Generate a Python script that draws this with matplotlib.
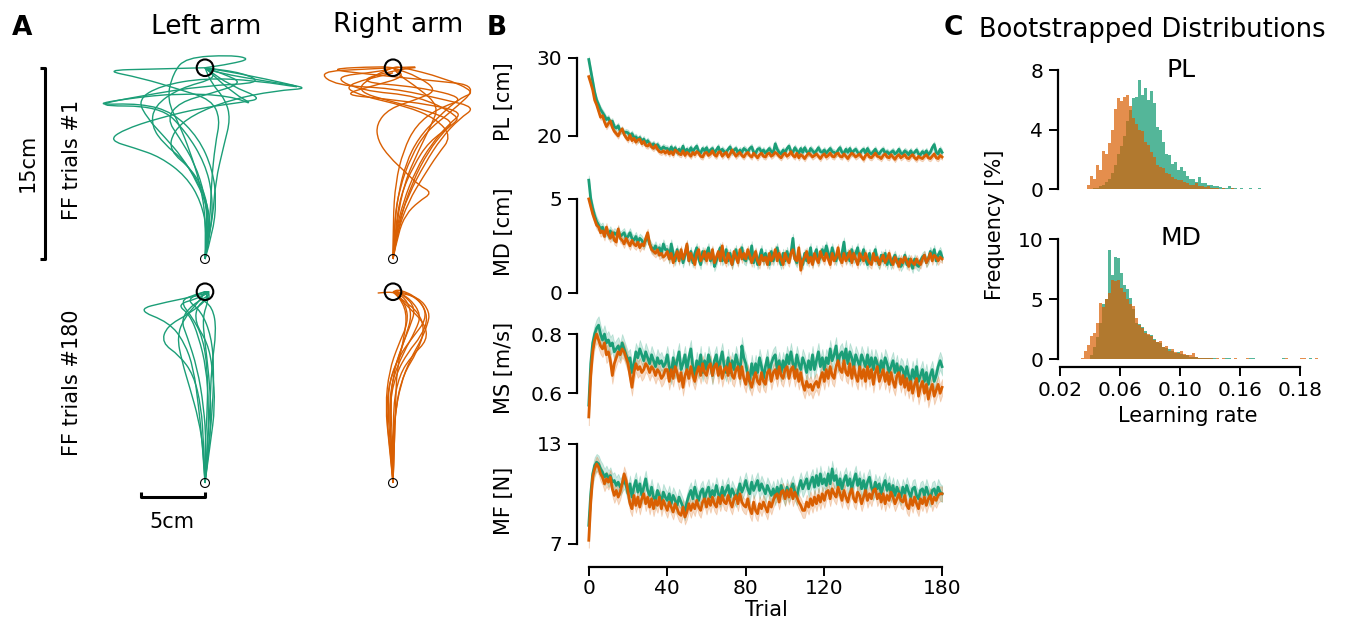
import numpy as np
import matplotlib
matplotlib.use("Agg")
import matplotlib.pyplot as plt
from matplotlib.path import Path
from matplotlib.patches import PathPatch, Circle

W, H = 1345, 623
GREEN = "#1b9e77"
ORANGE = "#d95f02"

# ---------------- panel A: hand paths (cm, start at 0,0, target at 0,15) ----
left_ff1 = [
    [(0, 0), (0.3, 2), (0.2, 4), (-0.6, 6), (-1.8, 8), (-3.2, 9.6), (-4.5, 11), (-5.3, 12.5), (-3.5, 13.6), (0, 14.2), (4, 14.0), (8.4, 13.3), (3.5, 14.4), (0, 15)],
    [(0, 0), (0.5, 2.5), (0.6, 5), (0, 7.5), (-1.5, 10), (-3.5, 12), (-9.0, 12.0), (-5, 12.8), (0, 13.6), (4.5, 13.8), (3, 14.6), (0, 15)],
    [(0, 0), (0.2, 2), (-0.3, 4.5), (-1.5, 6.5), (-3.5, 8.0), (-5.5, 8.7), (-7.5, 9.3), (-6.5, 10.1), (-3.5, 11.1), (0, 11.9), (3, 12.3), (4.5, 12.6), (2, 13.6), (0, 15)],
    [(0, 0), (0.4, 3), (0.5, 6), (0.8, 9), (1.2, 11), (0.5, 12.5), (-2, 13.3), (-5, 14.2), (-8, 14.8), (-4, 14.9), (0, 15)],
    [(0, 0), (0.1, 3), (-0.4, 6), (-1.2, 8.5), (-2, 10.5), (-3, 12.5), (-2.5, 14.6), (-1.5, 15.8), (2, 16.0), (3.6, 15.7), (2, 15.3), (0, 15)],
    [(0, 0), (0.3, 2.5), (0.1, 5), (-1, 7), (-2.8, 8.5), (-2.5, 10), (-1, 11.3), (2, 12.5), (5.5, 13.2), (8.4, 13.4), (5, 13.9), (1, 14.6), (0, 15)],
    [(0, 0), (0.6, 2), (0.9, 4.5), (0.6, 7), (-0.5, 9.5), (-2.5, 11.5), (-5, 12.2), (-8.8, 12.1), (-6, 12.6), (-2, 13.0), (2, 12.8), (4, 12.0), (2.2, 13.0), (0, 15)],
    [(0, 0), (0.2, 2.5), (0, 5), (-0.8, 7.5), (-2, 9.5), (-3, 11), (-2, 12.3), (0.5, 13), (3, 13.8), (1.5, 14.5), (0, 15)],
    [(0, 0), (0.4, 2), (0.3, 4), (-0.5, 6), (-1.7, 7.8), (-3.2, 9), (-4.2, 10.4), (-4, 12), (-2, 13.4), (1, 14.2), (0, 15)],
    [(0, 0), (0.6, 3), (0.8, 6), (1.5, 9), (2.0, 11), (1.6, 12.5), (0.5, 13.8), (0, 15)],
]
right_ff1 = [
    [(0, 0), (0.3, 2.5), (1.2, 5), (2.5, 7.5), (3.8, 9.5), (5.2, 11), (6.5, 11.9), (4, 12.5), (0, 13.4), (-4.5, 13.6), (-5.9, 14.7), (-2, 14.9), (0, 15)],
    [(0, 0), (0.2, 2), (0.8, 4.5), (1.8, 7), (3, 9), (4.4, 10.6), (5.5, 11.5), (3, 12.1), (-1, 12.6), (-4, 12.9), (-1.5, 13.6), (1, 14.3), (0, 15)],
    [(0, 0), (0.1, 3), (0.5, 5.5), (1.4, 8), (2.6, 10), (4.5, 11.5), (6.8, 13.6), (3, 14.0), (-2, 14.5), (-5.3, 14.9), (-1, 15.1), (0, 15)],
    [(0, 0), (0.4, 2), (1, 3.5), (2, 4.5), (3.1, 5.2), (2, 5.8), (1, 6.8), (-0.3, 8), (-1.2, 9.3), (-1.3, 10.6), (-0.3, 11.8), (1.8, 12.5), (3.5, 13.2), (2, 14.3), (0, 15)],
    [(0, 0), (0.2, 2.5), (0.6, 5), (1.6, 7.3), (2.8, 9.2), (4.8, 10.6), (5.2, 11.2), (2, 12.8), (-2.5, 13.2), (-4.8, 14.3), (-1, 14.7), (0, 15)],
    [(0, 0), (0.3, 3), (0.9, 6), (2.0, 8.5), (3.0, 10.5), (3.6, 12.0), (2.0, 13.4), (0.5, 14.4), (0, 15)],
    [(0, 0), (0.0, 3), (0.2, 6), (0.8, 8.5), (1.8, 10.5), (3.5, 11.8), (5.8, 12.6), (2, 13.5), (-3, 13.9), (0, 14.8), (2.5, 15.1), (0, 15)],
    [(0, 0), (0.3, 2), (1.2, 4.5), (2.4, 6.5), (3.5, 8.2), (4.6, 9.6), (3.4, 11.0), (1, 12.0), (-2.5, 12.8), (-4, 13.6), (0, 14.6)],
    [(0, 0), (0.1, 2.5), (0.4, 5), (1.0, 7.5), (2.0, 9.5), (3.5, 11.1), (5.2, 12.6), (6.5, 13.1), (4, 14.2), (0.5, 15.1), (0, 15)],
    [(0, 0), (0.5, 3), (1.5, 6), (2.8, 8.5), (4.0, 10.0), (4.8, 10.8), (2.5, 11.7), (0, 12.3), (-3, 13.2), (-1.5, 14.4), (0, 15)],
]
left_ff180 = [
    [(0, 0), (-0.2, 3), (-0.5, 6), (-0.9, 9), (-1.6, 11), (-2.8, 12.6), (-5.4, 13.6), (-3, 14.2), (-0.5, 14.7), (0.5, 15), (0, 15)],
    [(0, 0), (-0.1, 3), (-0.3, 6), (-0.9, 8.5), (-2.0, 10.0), (-3.4, 11.0), (-3.0, 12.3), (-1.2, 13.3), (0.3, 14.5), (0, 15)],
    [(0, 0), (0.2, 3), (0.3, 6), (0.1, 9), (-0.5, 11.5), (-1.2, 13.2), (-2.2, 14.0), (-0.5, 14.5), (0.4, 15.0), (0, 15)],
    [(0, 0), (0.3, 3), (0.6, 6), (0.7, 9), (0.5, 11.5), (-0.3, 13.5), (-1.5, 14.4), (0, 15)],
    [(0, 0), (0.1, 3), (-0.1, 6), (-0.6, 9), (-1.4, 11.5), (-1.9, 12.8), (-1.0, 14.0), (0.5, 14.8), (0, 15)],
    [(0, 0), (0.4, 3), (0.8, 6), (0.6, 9), (0.2, 11), (-0.8, 12.6), (-0.6, 14), (0.5, 14.6), (0, 15)],
    [(0, 0), (-0.1, 2.5), (-0.5, 5), (-1.2, 7.5), (-1.8, 9.5), (-2.2, 11.5), (-1.6, 13.0), (-0.5, 14.2), (0, 15)],
    [(0, 0), (0.2, 3), (0.4, 6), (0.5, 9), (0.9, 12), (0.6, 13.8), (-0.4, 14.5), (0, 15)],
    [(0, 0), (0.0, 3), (0.2, 6), (0.2, 9), (-0.2, 11.5), (-1, 13), (-2, 14.3), (-0.7, 14.8), (0, 15)],
    [(0, 0), (0.3, 2.5), (0.5, 5.5), (0.3, 8.5), (0, 11), (-0.2, 13), (0.3, 14.4), (0, 15)],
]
right_ff180 = [
    [(0, 0), (-0.2, 3), (-0.4, 5.5), (-0.3, 8), (0.5, 10), (1.6, 11.5), (2.6, 12.8), (2.4, 14.0), (1.2, 14.9), (0, 15)],
    [(0, 0), (-0.1, 3), (-0.3, 6), (0.2, 8.5), (1.2, 10.3), (2.2, 11.5), (2.8, 13.0), (2.0, 14.5), (0.5, 15.2), (0, 15)],
    [(0, 0), (0, 3), (-0.2, 6), (0, 8.5), (0.6, 10.5), (1.3, 12.2), (1.8, 13.7), (0.8, 14.8), (0, 15)],
    [(0, 0), (0.1, 3), (0.0, 6), (0.5, 8.5), (1.5, 10), (2.7, 11.2), (2.5, 12.5), (1.2, 13.8), (0, 15)],
    [(0, 0), (-0.2, 2.5), (-0.5, 5), (-0.4, 7.5), (0.3, 9.5), (1.0, 11.5), (1.5, 13.2), (1.0, 14.5), (0, 15)],
    [(0, 0), (0.1, 3), (0.2, 6), (0.8, 8.5), (1.9, 10.3), (2.5, 12), (2.0, 13.4), (0.7, 14.4), (0, 15)],
    [(0, 0), (-0.1, 2.5), (-0.3, 5.5), (-0.1, 8.0), (0.8, 10.2), (1.8, 12.0), (2.2, 13.2), (1.4, 14.4), (0.2, 15.1)],
    [(0, 0), (0.0, 2.5), (0.1, 5.0), (0.6, 7.8), (1.4, 9.8), (2.2, 11.2), (2.7, 12.4), (2.9, 13.4), (2.0, 14.6), (0, 15), (-1.2, 14.9)],
    [(0, 0), (0.1, 3), (0.2, 6), (0.3, 9), (0.9, 11.5), (1.1, 13.4), (0.4, 14.7), (0, 15)],
    [(0, 0), (-0.3, 3), (-0.6, 6), (-0.3, 8.8), (0.4, 10.8), (1.2, 12.6), (1.0, 14.0), (0.3, 14.8), (0, 15)],
]

# ---------------- panel B: per-trial means ----------------
pl_left = [
    29.8, 28.4, 27.0, 25.6, 24.6, 24.0, 23.4, 23.0, 22.6, 22.1,
    22.3, 21.7, 21.9, 21.2, 21.0, 21.3, 20.6, 20.8, 20.4, 20.5,
    20.4, 20.0, 20.3, 19.8, 19.9, 19.5, 19.8, 19.3, 19.6, 19.1,
    19.4, 19.0, 18.8, 19.0, 18.6, 18.9, 18.5, 18.3, 18.6, 18.4,
    18.4, 18.0, 18.6, 18.1, 18.5, 17.9, 18.3, 18.0, 18.7, 17.9,
    18.3, 17.9, 18.5, 18.0, 18.4, 18.7, 18.0, 17.8, 18.4, 18.1,
    18.5, 17.9, 18.2, 18.4, 17.8, 18.2, 18.6, 17.9, 18.3, 18.0,
    17.9, 18.3, 18.6, 17.9, 18.2, 18.4, 17.8, 18.2, 17.9, 18.4,
    18.2, 17.9, 18.4, 18.6, 17.9, 17.8, 18.3, 18.4, 17.9, 18.2,
    17.8, 18.1, 18.4, 18.0, 17.8, 19.0, 18.3, 17.9, 17.7, 18.2,
    17.9, 18.4, 18.7, 18.0, 17.9, 18.5, 18.1, 17.8, 18.4, 17.9,
    18.5, 18.0, 17.8, 18.4, 18.1, 17.8, 18.1, 18.5, 18.0, 17.9,
    18.2, 17.8, 18.1, 18.4, 18.0, 17.9, 17.7, 18.2, 18.5, 17.9,
    17.8, 18.3, 17.9, 18.4, 17.8, 18.1, 18.3, 17.9, 17.7, 18.1,
    18.3, 17.8, 18.4, 17.9, 17.7, 18.0, 18.3, 17.8, 17.7, 18.1,
    18.3, 17.8, 18.0, 17.7, 17.9, 18.1, 17.7, 17.9, 18.3, 17.8,
    17.7, 18.1, 17.9, 17.6, 18.1, 17.7, 17.9, 18.2, 17.7, 17.6,
    18.0, 17.7, 18.1, 17.6, 17.9, 18.5, 18.9, 17.9, 17.7, 18.3,
    17.9,
]
pl_right = [
    27.6, 26.8, 25.9, 24.6, 24.0, 23.2, 22.4, 22.6, 21.8, 21.2,
    21.6, 21.9, 21.1, 20.6, 20.3, 20.0, 20.6, 20.9, 20.2, 19.8,
    19.5, 20.1, 19.4, 19.7, 19.2, 19.5, 19.6, 19.0, 19.3, 18.8,
    18.7, 19.0, 18.6, 18.4, 18.8, 18.3, 18.0, 17.9, 18.1, 17.8,
    18.1, 17.7, 18.0, 17.6, 18.2, 18.0, 17.7, 17.6, 18.1, 17.5,
    17.9, 17.7, 17.4, 17.9, 17.6, 18.0, 17.8, 17.4, 17.3, 17.8,
    17.9, 17.5, 17.7, 18.1, 17.6, 17.4, 17.9, 18.0, 17.4, 17.7,
    17.9, 17.3, 17.7, 18.2, 17.8, 17.4, 17.7, 17.9, 17.5, 17.3,
    17.7, 17.9, 17.5, 17.3, 17.8, 17.5, 17.2, 17.6, 17.8, 17.4,
    17.3, 17.7, 17.8, 17.4, 17.6, 17.9, 17.7, 17.4, 17.2, 17.6,
    17.8, 17.4, 17.6, 18.0, 17.5, 17.3, 17.8, 17.2, 17.6, 17.4,
    17.1, 17.5, 17.8, 17.6, 17.3, 17.5, 17.7, 17.4, 17.1, 17.5,
    17.7, 17.3, 17.5, 17.8, 17.4, 17.3, 17.7, 17.8, 17.4, 17.3,
    17.7, 17.4, 17.1, 17.5, 17.8, 17.6, 17.3, 17.5, 17.7, 17.3,
    17.0, 17.5, 17.7, 17.3, 17.2, 17.5, 17.8, 17.4, 17.3, 17.1,
    17.5, 17.7, 17.3, 17.2, 17.6, 17.3, 17.0, 17.4, 17.6, 17.2,
    17.4, 17.6, 17.2, 17.1, 17.4, 17.6, 17.2, 17.0, 17.4, 17.2,
    17.1, 17.4, 17.6, 17.2, 17.1, 17.4, 17.7, 17.2, 17.1, 17.5,
    17.3,
]
md_left = [
    6.0, 5.0, 4.5, 4.1, 3.8, 3.6, 3.4, 3.5, 3.2, 3.3,
    3.1, 3.3, 3.0, 3.2, 3.1, 3.3, 3.0, 3.1, 3.2, 2.9,
    3.0, 3.2, 2.9, 2.8, 3.0, 2.7, 2.9, 2.8, 2.6, 2.8,
    3.0, 2.6, 2.4, 2.3, 2.5, 2.2, 2.4, 2.1, 2.6, 2.3,
    2.3, 1.8, 2.6, 2.1, 1.7, 2.3, 1.8, 2.2, 1.6, 2.0,
    2.5, 1.7, 2.2, 1.6, 2.1, 2.4, 1.8, 1.5, 2.2, 1.8,
    2.1, 2.4, 1.7, 2.2, 1.4, 1.7, 2.1, 2.4, 1.7, 1.9,
    2.3, 1.7, 2.1, 1.5, 1.9, 2.3, 1.7, 2.1, 2.4, 1.8,
    1.7, 2.1, 1.8, 2.5, 1.6, 2.1, 1.5, 1.9, 2.3, 1.7,
    2.1, 1.8, 1.5, 2.2, 1.7, 2.1, 2.4, 1.8, 1.5, 2.1,
    1.7, 2.2, 1.8, 2.1, 2.9, 1.8, 1.6, 2.1, 1.8, 1.5,
    2.1, 1.7, 1.9, 2.4, 1.6, 2.0, 2.3, 1.7, 1.9, 2.3,
    2.0, 2.5, 2.1, 1.8, 2.4, 2.0, 1.7, 2.2, 1.8, 2.1,
    2.7, 1.8, 2.1, 1.7, 2.3, 1.8, 2.1, 2.4, 1.7, 1.9,
    2.3, 1.8, 1.5, 2.1, 1.7, 1.9, 2.3, 1.7, 1.5, 2.0,
    1.7, 2.1, 1.5, 1.9, 1.5, 1.8, 2.0, 1.6, 1.8, 1.4,
    1.6, 2.0, 1.5, 1.8, 1.6, 1.3, 1.8, 1.5, 1.4, 1.7,
    1.9, 2.0, 1.6, 1.8, 2.2, 1.9, 2.3, 1.7, 2.0, 2.2,
    1.9,
]
md_right = [
    5.0, 4.6, 4.2, 3.9, 3.6, 3.5, 3.2, 3.3, 3.0, 3.5,
    3.1, 2.9, 3.2, 2.8, 2.7, 3.4, 2.9, 2.8, 2.6, 2.9,
    2.7, 2.5, 2.8, 2.6, 2.5, 2.7, 2.4, 2.6, 2.5, 2.9,
    3.2, 2.6, 2.3, 2.2, 2.1, 2.3, 2.0, 2.1, 1.9, 2.0,
    2.2, 1.8, 2.1, 1.6, 1.9, 2.2, 1.7, 2.3, 1.8, 2.1,
    2.6, 1.7, 2.1, 1.8, 1.5, 2.1, 2.3, 1.7, 1.9, 2.2,
    1.7, 2.1, 1.8, 2.3, 1.6, 1.9, 2.2, 1.7, 2.5, 1.8,
    1.6, 2.1, 1.8, 1.5, 2.2, 1.9, 1.6, 2.3, 1.8, 2.1,
    1.8, 2.3, 2.0, 1.6, 1.9, 2.2, 1.7, 1.5, 2.0, 1.7,
    1.9, 1.5, 2.1, 1.7, 1.9, 2.3, 1.7, 2.1, 1.8, 1.5,
    2.1, 1.8, 1.6, 2.1, 2.3, 1.8, 1.7, 2.4, 1.2, 1.7,
    1.9, 2.2, 1.6, 1.9, 1.5, 2.1, 1.8, 1.6, 2.2, 1.9,
    1.7, 2.1, 1.8, 1.5, 2.1, 1.7, 1.9, 2.4, 1.8, 1.6,
    2.1, 1.7, 1.9, 2.2, 1.6, 2.1, 1.8, 1.5, 2.1, 1.9,
    1.7, 2.1, 1.8, 1.6, 1.5, 2.1, 1.7, 1.9, 1.5, 1.8,
    2.0, 1.6, 1.8, 2.1, 1.7, 1.5, 1.9, 1.7, 1.4, 1.8,
    1.6, 1.9, 1.7, 1.4, 1.8, 1.6, 1.5, 1.8, 1.6, 1.5,
    1.8, 2.0, 1.6, 1.8, 2.1, 1.7, 2.0, 1.9, 1.7, 1.9,
    1.8,
]
ms_left = [
    0.56, 0.70, 0.77, 0.80, 0.82, 0.83, 0.80, 0.78, 0.80, 0.77,
    0.78, 0.76, 0.77, 0.74, 0.75, 0.76, 0.74, 0.77, 0.75, 0.73,
    0.71, 0.72, 0.67, 0.70, 0.74, 0.72, 0.75, 0.73, 0.71, 0.74,
    0.72, 0.70, 0.73, 0.71, 0.69, 0.72, 0.70, 0.71, 0.69, 0.70,
    0.73, 0.69, 0.66, 0.72, 0.68, 0.71, 0.74, 0.68, 0.70, 0.73,
    0.68, 0.72, 0.75, 0.69, 0.66, 0.71, 0.68, 0.73, 0.67, 0.71,
    0.68, 0.73, 0.70, 0.66, 0.71, 0.73, 0.68, 0.71, 0.74, 0.69,
    0.67, 0.72, 0.67, 0.71, 0.68, 0.73, 0.70, 0.66, 0.76, 0.72,
    0.70, 0.66, 0.64, 0.70, 0.66, 0.70, 0.67, 0.72, 0.69, 0.65,
    0.69, 0.72, 0.67, 0.70, 0.72, 0.73, 0.68, 0.71, 0.67, 0.71,
    0.68, 0.73, 0.70, 0.74, 0.70, 0.68, 0.73, 0.70, 0.68, 0.72,
    0.70, 0.67, 0.71, 0.68, 0.73, 0.68, 0.71, 0.74, 0.69, 0.72,
    0.68, 0.72, 0.70, 0.75, 0.71, 0.73, 0.76, 0.70, 0.73, 0.74,
    0.71, 0.75, 0.70, 0.74, 0.72, 0.69, 0.73, 0.71, 0.69, 0.73,
    0.71, 0.69, 0.73, 0.69, 0.72, 0.68, 0.72, 0.70, 0.67, 0.71,
    0.68, 0.72, 0.70, 0.67, 0.69, 0.71, 0.67, 0.70, 0.66, 0.69,
    0.68, 0.65, 0.69, 0.66, 0.64, 0.68, 0.65, 0.69, 0.64, 0.66,
    0.68, 0.64, 0.67, 0.63, 0.66, 0.68, 0.64, 0.66, 0.69, 0.71,
    0.69,
]
ms_right = [
    0.52, 0.66, 0.74, 0.78, 0.80, 0.78, 0.76, 0.75, 0.77, 0.73,
    0.74, 0.71, 0.66, 0.70, 0.72, 0.74, 0.73, 0.75, 0.74, 0.72,
    0.70, 0.66, 0.62, 0.67, 0.70, 0.68, 0.69, 0.67, 0.68, 0.70,
    0.69, 0.67, 0.69, 0.68, 0.66, 0.68, 0.67, 0.65, 0.66, 0.68,
    0.68, 0.64, 0.68, 0.65, 0.69, 0.67, 0.64, 0.67, 0.62, 0.66,
    0.68, 0.65, 0.69, 0.66, 0.64, 0.67, 0.69, 0.66, 0.70, 0.67,
    0.66, 0.69, 0.70, 0.66, 0.69, 0.70, 0.66, 0.69, 0.65, 0.68,
    0.69, 0.66, 0.70, 0.66, 0.65, 0.68, 0.69, 0.65, 0.69, 0.65,
    0.63, 0.67, 0.64, 0.62, 0.65, 0.67, 0.64, 0.63, 0.67, 0.64,
    0.63, 0.67, 0.68, 0.64, 0.67, 0.68, 0.65, 0.69, 0.66, 0.65,
    0.68, 0.69, 0.65, 0.68, 0.69, 0.65, 0.68, 0.64, 0.67, 0.63,
    0.61, 0.64, 0.62, 0.63, 0.61, 0.63, 0.64, 0.62, 0.65, 0.67,
    0.64, 0.68, 0.65, 0.69, 0.66, 0.65, 0.69, 0.71, 0.68, 0.67,
    0.71, 0.67, 0.66, 0.70, 0.65, 0.69, 0.66, 0.64, 0.69, 0.65,
    0.68, 0.64, 0.69, 0.65, 0.68, 0.63, 0.67, 0.69, 0.64, 0.66,
    0.68, 0.64, 0.67, 0.63, 0.67, 0.64, 0.62, 0.66, 0.67, 0.63,
    0.66, 0.62, 0.65, 0.61, 0.64, 0.60, 0.63, 0.65, 0.59, 0.62,
    0.64, 0.60, 0.63, 0.58, 0.61, 0.63, 0.59, 0.61, 0.63, 0.60,
    0.62,
]
mf_left = [
    8.1, 10.0, 11.2, 11.7, 11.9, 11.8, 11.5, 11.3, 11.0, 11.2,
    10.9, 11.1, 10.7, 10.8, 10.5, 10.7, 10.4, 10.6, 10.8, 10.5,
    10.0, 10.6, 9.8, 10.4, 10.8, 10.1, 10.6, 9.9, 10.4, 10.9,
    10.2, 9.9, 10.4, 9.8, 9.6, 10.2, 9.9, 9.5, 10.1, 9.8,
    9.6, 10.0, 9.4, 9.9, 9.6, 9.3, 9.8, 9.5, 9.2, 8.9,
    9.5, 9.9, 10.2, 9.7, 10.4, 9.9, 9.6, 10.1, 10.3, 9.7,
    10.1, 10.4, 9.8, 10.2, 9.9, 10.5, 10.0, 9.7, 10.4, 9.9,
    10.2, 10.5, 9.8, 10.3, 10.0, 9.7, 10.1, 10.6, 10.1, 10.4,
    10.8, 10.3, 10.0, 10.7, 10.2, 10.5, 10.8, 10.2, 10.6, 10.3,
    10.0, 10.5, 10.2, 9.9, 10.3, 9.8, 10.4, 10.0, 10.5, 10.1,
    9.8, 10.4, 10.0, 10.3, 10.6, 10.1, 9.8, 10.4, 10.8, 10.3,
    10.6, 10.9, 10.3, 10.7, 11.0, 10.4, 11.1, 10.5, 11.2, 10.6,
    10.9, 10.5, 11.2, 10.6, 11.5, 10.8, 11.1, 10.4, 10.9, 10.3,
    10.8, 11.1, 10.5, 10.9, 10.3, 10.8, 11.2, 10.5, 10.9, 10.3,
    10.8, 10.2, 10.7, 11.0, 10.4, 10.1, 10.7, 10.3, 10.6, 10.0,
    10.5, 10.8, 10.2, 10.6, 10.0, 10.5, 9.9, 10.4, 10.1, 9.8,
    10.4, 10.0, 10.5, 10.1, 9.8, 10.3, 10.4, 9.9, 9.7, 10.2,
    10.3, 9.9, 10.4, 10.0, 9.7, 10.2, 10.3, 9.9, 10.4, 10.1,
    10.0,
]
mf_right = [
    7.2, 9.5, 11.0, 11.5, 11.8, 11.6, 11.2, 11.0, 10.6, 10.9,
    10.7, 11.0, 10.3, 9.9, 10.2, 9.8, 10.1, 10.6, 11.2, 10.8,
    10.1, 9.4, 9.1, 9.9, 9.3, 9.8, 9.2, 9.7, 10.0, 9.4,
    9.8, 9.2, 9.7, 9.1, 9.6, 9.3, 9.8, 9.1, 9.6, 9.3,
    9.0, 9.5, 9.2, 8.9, 9.4, 9.1, 8.8, 8.7, 9.2, 8.6,
    8.9, 9.4, 9.0, 9.4, 9.1, 9.6, 9.2, 9.0, 9.5, 9.7,
    9.2, 9.7, 9.3, 9.8, 9.4, 9.2, 9.8, 9.4, 9.9, 9.5,
    9.4, 9.9, 9.5, 9.2, 9.7, 9.9, 9.4, 10.0, 9.5, 9.3,
    9.2, 9.7, 9.1, 8.8, 9.5, 9.0, 8.8, 9.4, 9.1, 9.5,
    9.2, 8.9, 9.5, 9.2, 9.6, 9.9, 10.0, 9.5, 10.1, 10.2,
    9.7, 10.2, 9.8, 10.3, 9.7, 10.1, 9.8, 9.5, 9.3, 9.0,
    9.0, 9.5, 9.2, 9.7, 9.3, 9.8, 9.4, 9.9, 9.5, 10.0,
    9.6, 10.1, 10.2, 9.7, 10.3, 10.0, 9.8, 10.4, 10.0, 9.6,
    10.2, 9.8, 9.5, 10.0, 10.3, 9.7, 9.5, 10.1, 9.9, 9.4,
    9.8, 10.2, 9.6, 10.0, 9.7, 10.2, 10.3, 9.7, 10.0, 9.5,
    10.0, 9.4, 9.9, 9.6, 10.1, 9.8, 9.4, 9.7, 10.0, 9.6,
    9.5, 9.9, 9.3, 9.1, 9.7, 9.3, 9.8, 9.4, 9.1, 9.7,
    9.4, 9.8, 9.3, 9.7, 9.9, 9.4, 9.8, 9.6, 9.9, 10.0,
    10.0,
]
# standard error (band half-width) per series
sem = {"PL": (0.4, 0.35), "MD": (0.25, 0.22), "MS": (0.03, 0.028), "MF": (0.5, 0.45)}

# ---------------- panel C: bootstrapped learning-rate histograms (%) -------
pl_edge0, md_edge0, bin_w = 0.036, 0.034, 0.002
pl_hist_left = [
    0, 0, 0.05, 0.1, 0.1, 0.2, 0.3, 0.5, 0.7, 1.1,
    1.6, 2.4, 2.9, 3.6, 4.6, 5.3, 6.1, 6.2, 7.3, 6.3,
    6.8, 6.0, 6.6, 5.8, 4.2, 4.0, 3.2, 2.4, 2.3, 1.7,
    1.8, 1.3, 1.5, 1.2, 0.9, 0.7, 0.7, 0.5, 0.85, 0.4,
    0.4, 0.3, 0.3, 0.2, 0.2, 0.15, 0.1, 0.1, 0.2, 0.1,
    0.1, 0.05, 0.1, 0.05, 0.05, 0.1, 0, 0.05, 0.1, 0,
    0, 0, 0, 0, 0, 0,
]
pl_hist_right = [
    0, 0.3, 0.9, 0.7, 1.6, 1.3, 2.6, 2.4, 3.1, 4.0,
    5.4, 6.1, 5.9, 6.2, 6.3, 5.6, 4.8, 4.4, 4.0, 3.9,
    3.2, 3.0, 2.5, 2.2, 1.6, 1.5, 1.4, 1.1, 1.0, 0.8,
    0.7, 0.6, 0.6, 0.5, 0.4, 0.3, 0.3, 0.4, 0.2, 0.2,
    0.15, 0.2, 0.1, 0.1, 0.1, 0.05, 0.1, 0.05, 0.05, 0.1,
    0.05, 0, 0.05, 0, 0.05, 0, 0, 0.05, 0, 0,
    0, 0, 0.05, 0, 0, 0,
]
md_hist_left = [
    0, 0, 0, 0.3, 1.0, 1.8, 3.0, 4.6, 5.0, 9.1,
    7.0, 8.5, 8.4, 7.2, 6.2, 5.8, 5.1, 4.2, 3.0, 2.9,
    2.7, 2.3, 2.0, 2.0, 1.7, 1.4, 1.3, 1.0, 0.9, 0.8,
    0.7, 0.5, 0.6, 0.4, 0.3, 0.35, 0.2, 0.2, 0.15, 0.1,
    0.05, 0.1, 0.1, 0.1, 0.05, 0, 0, 0, 0.05, 0.05,
    0, 0, 0, 0, 0, 0, 0.05, 0.05, 0, 0,
    0, 0, 0, 0, 0, 0, 0, 0.05, 0, 0,
    0, 0, 0, 0, 0, 0, 0.05, 0, 0, 0,
]
md_hist_right = [
    0.1, 0.7, 1.2, 1.9, 2.2, 3.0, 4.7, 4.3, 5.0, 5.5,
    6.6, 6.5, 6.6, 5.9, 5.6, 5.0, 4.6, 4.4, 3.4, 2.8,
    2.6, 2.2, 2.1, 1.9, 1.6, 1.4, 1.5, 1.0, 1.1, 0.7,
    0.8, 0.6, 0.5, 0.7, 0.4, 0.3, 0.3, 0.5, 0.2, 0.1,
    0.1, 0.05, 0.1, 0.05, 0, 0.05, 0, 0.05, 0, 0,
    0, 0.05, 0, 0, 0, 0.05, 0, 0, 0, 0,
    0, 0, 0, 0, 0, 0, 0, 0, 0.05, 0,
    0, 0, 0, 0.05, 0.05, 0, 0, 0, 0.05, 0,
]


def fx(px):
    return px / W


def fy(py):
    return 1 - py / H


def px_axes(left, top, right, bottom):
    return fig.add_axes([fx(left), fy(bottom), (right - left) / W, (bottom - top) / H])


def smooth_path(points):
    pts = np.asarray(points, dtype=float)
    verts, codes = [pts[0]], [Path.MOVETO]
    for i in range(1, len(pts) - 1):
        verts += [pts[i], (pts[i] + pts[i + 1]) / 2]
        codes += [Path.CURVE3, Path.CURVE3]
    verts.append(pts[-1])
    codes.append(Path.LINETO)
    return Path(verts, codes)


fig = plt.figure(figsize=(W / 100, H / 100), dpi=100)

# ---------------- A ----------------
PXCM = 12.75
axA = px_axes(20, 40, 480, 540)
axA.set_xlim((20 - 205) / PXCM, (480 - 205) / PXCM)
axA.set_ylim((259 - 540) / PXCM, (259 - 40) / PXCM)
axA.axis("off")

col_dx = (393 - 205) / PXCM
row_dy = -(483 - 259) / PXCM
for paths, color, dx, dy in [(left_ff1, GREEN, 0, 0), (right_ff1, ORANGE, col_dx, 0),
                             (left_ff180, GREEN, 0, row_dy), (right_ff180, ORANGE, col_dx, row_dy)]:
    for tr in paths:
        p = smooth_path([(x + dx, y + dy) for x, y in tr])
        axA.add_patch(PathPatch(p, fill=False, edgecolor=color, lw=1.0))
    axA.add_patch(Circle((dx, dy + 15), 0.65, fill=False, ec="black", lw=1.5, zorder=5))
    axA.add_patch(Circle((dx, dy), 0.35, fill=False, ec="black", lw=0.8, zorder=5))

# scale bars
xb = (45 - 205) / PXCM
axA.plot([xb - 0.4, xb, xb, xb - 0.4], [0, 0, 15, 15], color="black", lw=2.2, solid_capstyle="butt")
yb = (259 - 497) / PXCM
axA.plot([-5, -5, 0, 0], [yb + 0.4, yb, yb, yb + 0.4], color="black", lw=2.2, solid_capstyle="butt")

fig.text(fx(22), fy(28), "A", fontsize=19, fontweight="bold", ha="center", va="center")
fig.text(fx(206), fy(27), "Left arm", fontsize=19, ha="center", va="center")
fig.text(fx(398), fy(25), "Right arm", fontsize=19, ha="center", va="center")
fig.text(fx(28), fy(163), "15cm", fontsize=15, rotation=90, ha="center", va="center")
fig.text(fx(72), fy(160), "FF trials #1", fontsize=15, rotation=90, ha="center", va="center")
fig.text(fx(72), fy(383), "FF trials #180", fontsize=15, rotation=90, ha="center", va="center")
fig.text(fx(172), fy(522), "5cm", fontsize=15, ha="center", va="center")

# ---------------- B ----------------
panels = [
    ("PL [cm]", pl_left, pl_right, sem["PL"], (38, 165), (16.28, 32.56), [20, 30]),
    ("MD [cm]", md_left, md_right, sem["MD"], (165, 298), (-0.28, 6.81), [0, 5]),
    ("MS [m/s]", ms_left, ms_right, sem["MS"], (300, 435), (0.459, 0.915), [0.6, 0.8]),
    ("MF [N]", mf_left, mf_right, sem["MF"], (435, 567), (5.59, 13.54), [7, 13]),
]
for i, (lab, yl, yr, (sl, sr), (top, bot), ylim, yt) in enumerate(panels):
    ax = px_axes(577, top, 946, bot)
    ax.patch.set_alpha(0)
    for vals, s, c in [(yl, sl, GREEN), (yr, sr, ORANGE)]:
        v = np.asarray(vals)
        t = np.arange(len(v))
        ax.fill_between(t, v - s, v + s, color=c, alpha=0.22, lw=0.6)
        ax.plot(t, v, color=c, lw=2.0)
    ax.set_xlim(-6, 182)
    ax.set_ylim(*ylim)
    ax.set_yticks(yt)
    ax.set_yticklabels([f"{v:g}" for v in yt])
    ax.spines[["top", "right"]].set_visible(False)
    ax.spines["left"].set_bounds(yt[0], yt[-1])
    ax.spines["left"].set_linewidth(1.6)
    ax.tick_params(axis="both", labelsize=14.5, length=6.5, width=1.4, pad=4)
    ax.set_ylabel(lab, fontsize=15)
    ax.yaxis.set_label_coords(-0.17, 0.5)
    if i < 3:
        ax.spines["bottom"].set_visible(False)
        ax.set_xticks([])
    else:
        ax.set_xticks([0, 40, 80, 120, 180])
        ax.spines["bottom"].set_bounds(0, 180)
        ax.spines["bottom"].set_linewidth(1.6)
        ax.tick_params(axis="x", pad=2)

fig.text(fx(766), fy(610), "Trial", fontsize=15, ha="center", va="center")
fig.text(fx(497), fy(28), "B", fontsize=19, fontweight="bold", ha="center", va="center")

# ---------------- C ----------------
hist_panels = [
    ("PL", pl_hist_left, pl_hist_right, pl_edge0, (62, 189.3), (0, 8.54), [0, 4, 8], 70),
    ("MD", md_hist_left, md_hist_right, md_edge0, (230, 366.7), (-0.64, 10.75), [0, 5, 10], 238),
]
for j, (name, hl, hr, e0, (top, bot), ylim, yt, ty) in enumerate(hist_panels):
    ax = px_axes(1057.75, top, 1318, bot)
    ax.patch.set_alpha(0)
    for vals, c, a in [(hl, GREEN, 0.75), (hr, ORANGE, 0.7)]:
        edges = e0 + bin_w * np.arange(len(vals) + 1)
        ax.stairs(vals, edges, fill=True, color=c, alpha=a, lw=0)
    ax.set_xlim(0.0185, 0.192)
    ax.set_ylim(*ylim)
    ax.set_yticks(yt)
    ax.spines[["top", "right"]].set_visible(False)
    ax.spines["left"].set_bounds(yt[0], yt[-1])
    ax.spines["left"].set_linewidth(1.6)
    ax.tick_params(axis="both", labelsize=14.5, length=6.5, width=1.4, pad=4)
    if j == 0:
        ax.spines["bottom"].set_visible(False)
        ax.set_xticks([])
    else:
        ax.set_xticks([0.02, 0.06, 0.10, 0.14, 0.18])
        ax.set_xticklabels(["0.02", "0.06", "0.10", "0.16", "0.18"])
        ax.spines["bottom"].set_bounds(0.02, 0.18)
        ax.spines["bottom"].set_linewidth(1.6)
        ax.set_xlabel("Learning rate", fontsize=15, labelpad=4)
    fig.text(fx(1181), fy(ty), name, fontsize=18, ha="center", va="center")

fig.text(fx(953), fy(28), "C", fontsize=19, fontweight="bold", ha="center", va="center")
fig.text(fx(1152), fy(30), "Bootstrapped Distributions", fontsize=18.5, ha="center", va="center")
fig.text(fx(995), fy(225), "Frequency [%]", fontsize=15, rotation=90, ha="center", va="center")

fig.savefig("out.png", dpi=100)
